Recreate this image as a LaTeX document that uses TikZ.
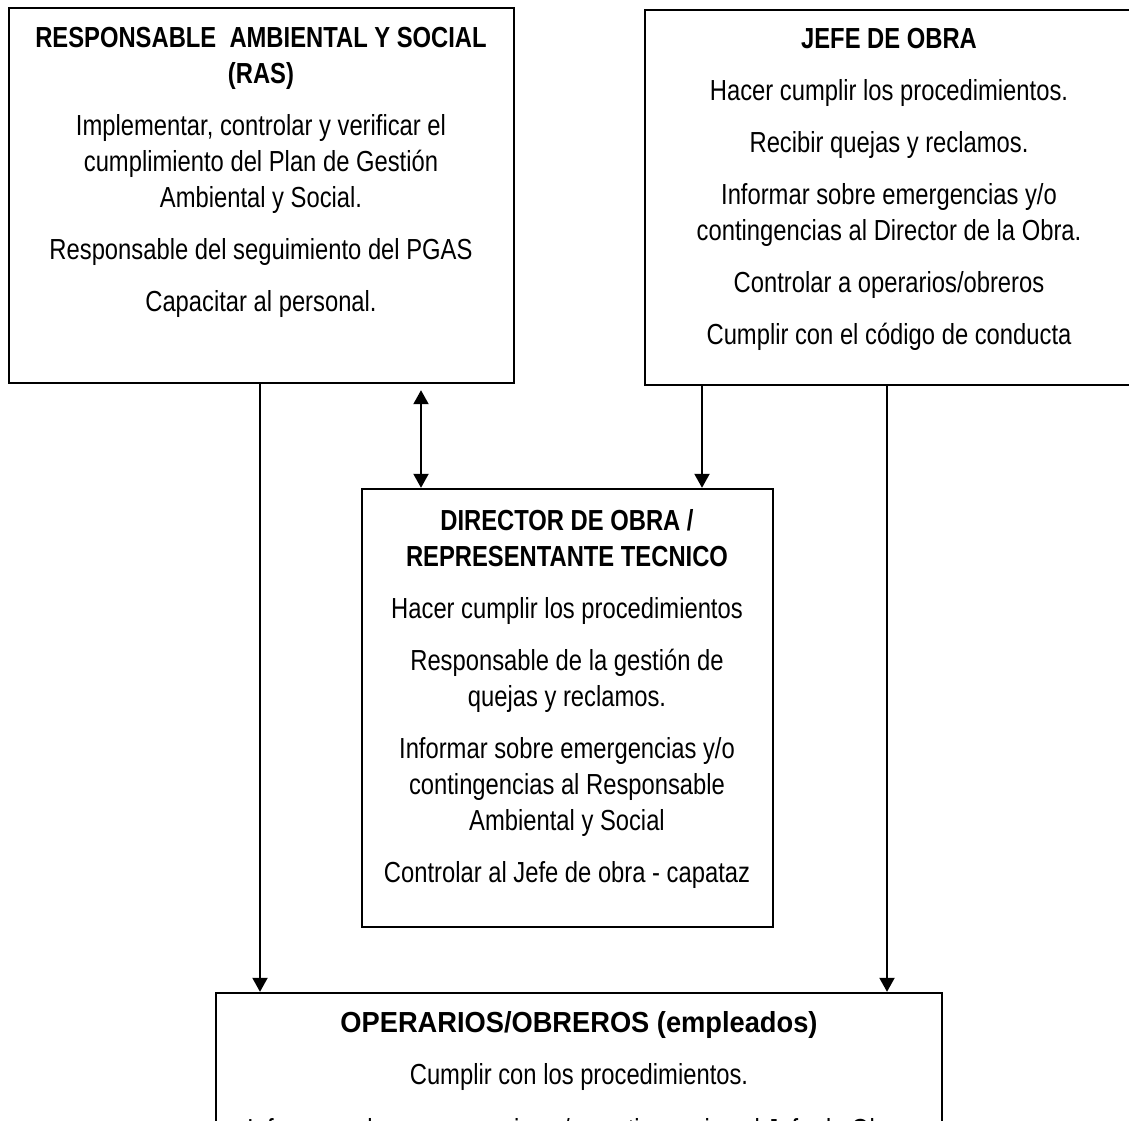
\documentclass[tikz,border=0pt]{standalone}
\usepackage{fontspec}
\setmainfont{Liberation Sans}[FakeStretch=0.82]
\newfontfamily\widefont{Liberation Sans}[FakeStretch=0.94]
\usetikzlibrary{arrows.meta}
\tikzset{
  box/.style={draw=black, line width=2.4pt, rectangle, inner sep=0pt, fill=white},
  txt/.style={font=\fontsize{29}{36}\selectfont, align=center, inner sep=0pt, anchor=north},
  arr/.style={line width=2pt, -{Triangle[length=14pt,width=15pt]}},
  darr/.style={line width=2pt, {Triangle[length=14pt,width=15pt]}-{Triangle[length=14pt,width=15pt]}}
}
\begin{document}
\begin{tikzpicture}[x=1pt,y=-1pt]
\useasboundingbox (0,0) rectangle (1129,1120);
\clip (0,0) rectangle (1129,1120);
\fill[white] (0,0) rectangle (1129,1120);
% boxes
\node[box, minimum width=505pt, minimum height=375pt] (ras) at (261.5,195.5) {};
\node[box, minimum width=490pt, minimum height=375pt] (jefe) at (890,197.5) {};
\node[box, minimum width=411pt, minimum height=438pt] (dir) at (567.5,708) {};
\node[box, minimum width=726pt, minimum height=160pt] (ope) at (579,1073) {};
% texts
\node[txt] (ras-t) at (261,21.8) {\strut\textbf{RESPONSABLE\ \ AMBIENTAL Y SOCIAL}\\
\textbf{(RAS)}\\[16pt]
Implementar, controlar y verificar el\\
cumplimiento del Plan de Gestión\\
Ambiental y Social.\\[16pt]
Responsable del seguimiento del PGAS\\[16pt]
Capacitar al personal.};
\node[txt] (jefe-t) at (889,22.8) {\strut\textbf{JEFE DE OBRA}\\[16pt]
Hacer cumplir los procedimientos.\\[16pt]
Recibir quejas y reclamos.\\[16pt]
Informar sobre emergencias y/o\\
contingencias al Director de la Obra.\\[16pt]
Controlar a operarios/obreros\\[16pt]
Cumplir con el código de conducta};
\node[txt] (dir-t) at (567,504.8) {\strut\textbf{DIRECTOR DE OBRA /}\\
\textbf{REPRESENTANTE TECNICO}\\[16pt]
Hacer cumplir los procedimientos\\[16pt]
Responsable de la gestión de\\
quejas y reclamos.\\[16pt]
Informar sobre emergencias y/o\\
contingencias al Responsable\\
Ambiental y Social\\[16pt]
Controlar al Jefe de obra - capataz};
\node[txt] (ope-t) at (579,1006.8) {\strut{\widefont\bfseries OPERARIOS/OBREROS (empleados)}\\[16pt]
Cumplir con los procedimientos.\\[19pt]
Informar sobre emergencias y/o contingencias al Jefe de Obra.};
% connectors
\coordinate (xa) at (260,0);
\coordinate (xb) at (421,0);
\coordinate (xc) at (702,0);
\coordinate (xd) at (887,0);
\draw[arr] (xa |- ras.south) -- (xa |- ope.north);
\draw[darr, shorten <=6pt] (xb |- ras.south) -- (xb |- dir.north);
\draw[arr] (xc |- jefe.south) -- (xc |- dir.north);
\draw[arr] (xd |- jefe.south) -- (xd |- ope.north);
\end{tikzpicture}
\end{document}
